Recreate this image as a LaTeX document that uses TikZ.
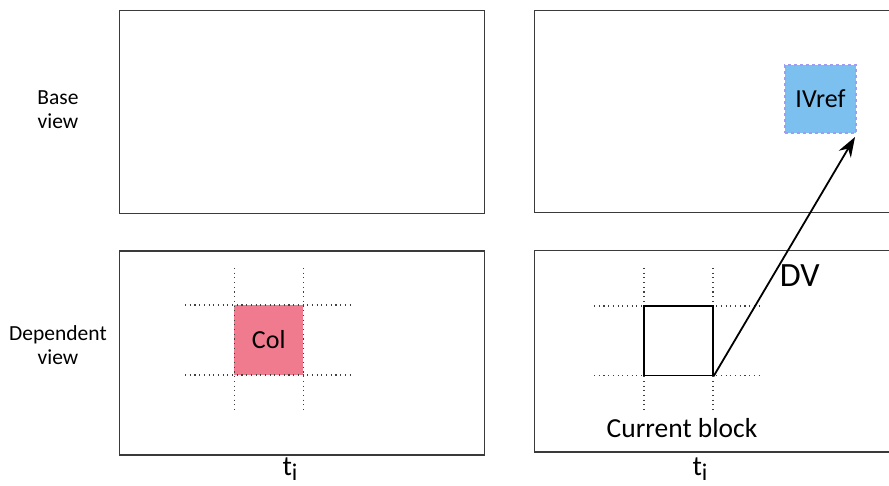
\documentclass[tikz,border=0pt]{standalone}
\usepackage{fontspec}
\setmainfont{Carlito}
\usetikzlibrary{arrows.meta}
\definecolor{boxline}{HTML}{3A3A3A}
\definecolor{colpink}{HTML}{F07B8F}
\definecolor{ivblue}{HTML}{7CC0F0}
\definecolor{ivedge}{HTML}{A09CF5}
\tikzset{
  viewbox/.style={draw=boxline, line width=1.3pt},
  griddot/.style={draw=black!75, line width=1.1pt, dash pattern=on 1.1pt off 3.6pt},
  lbl/.style={font=\fontsize{21.5}{24}\selectfont, align=center, inner sep=0pt},
  blk/.style={font=\fontsize{26}{30}\selectfont, inner sep=0pt},
}
\newcommand{\tilabel}{{\fontsize{28}{30}\selectfont t\raisebox{-5pt}{\fontsize{24}{26}\selectfont i}}}
\begin{document}
\begin{tikzpicture}[x=1pt,y=-1pt]
\useasboundingbox (0,0) rectangle (889,486);
% view boxes
\draw[viewbox] (119.5,10.5) rectangle (484.5,213.5);
\draw[viewbox] (534.5,10.5) rectangle (895,212.5);
\draw[viewbox] (119.5,251) rectangle (484.5,455);
\draw[viewbox] (534.5,250.5) rectangle (895,452);
% side labels
\node[lbl] (base) at (58,110) {Base\\view};
\node[lbl] (dep) at (58,345) {Dependent\\view};
% left grid
\node[fill=colpink, minimum width=69pt, minimum height=70pt, inner sep=0pt, blk] (col) at (268.75,340) {Col};
\draw[griddot] (234.5,268) -- (234.5,412);
\draw[griddot] (303.5,268) -- (303.5,412);
\draw[griddot] (185,305) -- (353,305);
\draw[griddot] (185,375) -- (353,375);
% right grid
\draw[griddot] (644,268) -- (644,412);
\draw[griddot] (713,268) -- (713,412);
\draw[griddot] (594,306) -- (762,306);
\draw[griddot] (594,375.5) -- (762,375.5);
\node[draw=black, line width=1.3pt, minimum width=69pt, minimum height=69.5pt, inner sep=0pt] (cur) at (678.5,340.75) {};
% IVref
\node[fill=ivblue, draw=ivedge, dashed, line width=1.2pt, minimum width=71pt, minimum height=68pt, inner sep=0pt, blk] (ivref) at (820.5,99) {IVref};
% arrow
\draw[line width=1.8pt, -{Stealth[length=20pt, width=14pt]}] (cur.south east) -- (855,137) node[pos=0.42, right=6pt, font=\fontsize{34}{36}\selectfont, inner sep=0pt] (dv) {DV};
% labels
\node[font=\fontsize{27.5}{30}\selectfont, inner sep=0pt] (curlbl) at (682,428) {Current block};
\node (t1) at (290,469) {\tilabel};
\node (t2) at (700,469) {\tilabel};
\end{tikzpicture}
\end{document}
